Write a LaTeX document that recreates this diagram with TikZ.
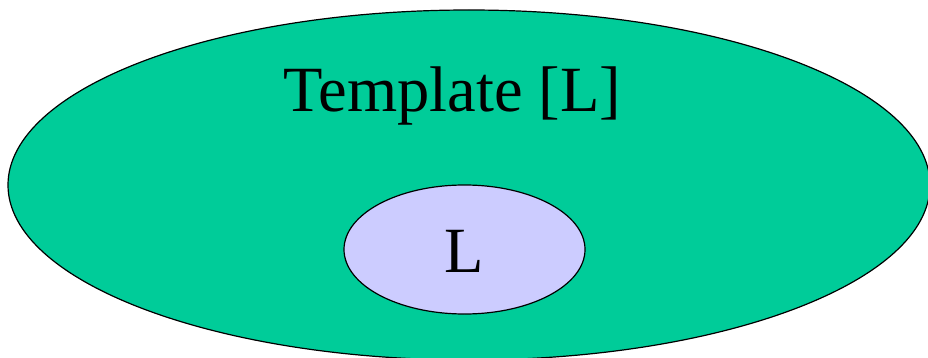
\documentclass[tikz,border=0pt]{standalone}
\usepackage{fontspec}
\setmainfont{Liberation Serif}
\usetikzlibrary{shapes.geometric}
\definecolor{tgreen}{HTML}{00CC99}
\definecolor{lav}{HTML}{CCCCFF}
\tikzset{
  outer/.style={draw=black, line width=1.2pt, fill=tgreen},
  inner/.style={ellipse, draw=black, line width=1.2pt, fill=lav, minimum width=241pt, minimum height=129pt, inner sep=0pt},
  lbl/.style={font=\fontsize{64.5}{70}\selectfont, inner sep=0pt}
}
\begin{document}
\begin{tikzpicture}[x=1pt,y=-1pt]
\useasboundingbox (0,0) rectangle (928,358);
\clip (0,0) rectangle (928,358);
\draw[outer] (469,185) ellipse [x radius=461, y radius=175];
\node[lbl, anchor=base] (title) at (452.5,112) {Template [L]};
\node[inner] (L) at (464.5,249.5) {};
\node[lbl, anchor=base] (Ltext) at (464.5,272) {L};
\end{tikzpicture}
\end{document}
